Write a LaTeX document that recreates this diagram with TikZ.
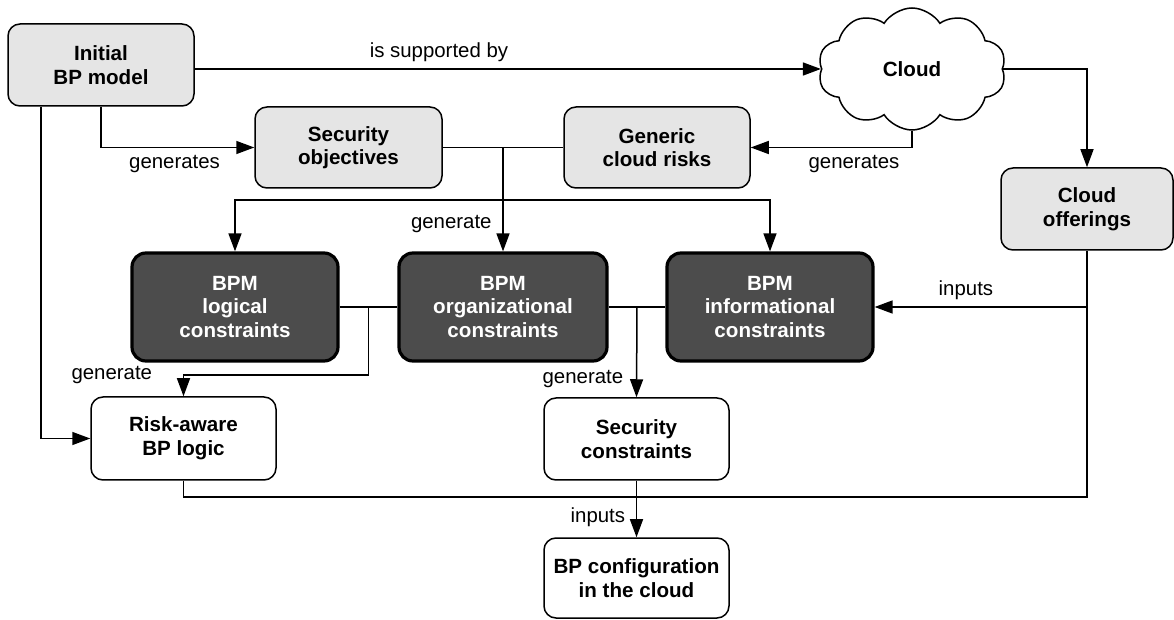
\documentclass[tikz,border=0pt]{standalone}
\usepackage{fontspec}
\setmainfont{Liberation Sans}
\usetikzlibrary{arrows.meta,shapes.symbols,calc}

\begin{document}
\begin{tikzpicture}[x=0.5pt, y=-0.5pt, thick,
    font=\fontsize{10.2}{11.8}\selectfont,
    box/.style={draw, rounded corners=6pt, align=center, inner sep=2pt, line width=0.75pt, font=\fontsize{10.3}{11.8}\selectfont\bfseries},
    lightbox/.style={box, fill=black!10},
    darkbox/.style={box, fill=black!70, text=white, line width=1.6pt, rounded corners=7pt},
    whitebox/.style={box, fill=white},
    link/.style={line width=0.75pt},
    arr/.style={link, -{Triangle[length=9pt, width=6.5pt]}}]
    \useasboundingbox (0,0) rectangle (1174,620);

    \node (init) at (101,65) [lightbox, minimum width=93pt, minimum height=41pt] {Initial\\BP model};
    \node (secobj) at (348.5,147.5) [lightbox, minimum width=93.5pt, minimum height=40.5pt] {Security\\objectives};
    \node (risks) at (657,147.5) [lightbox, minimum width=93pt, minimum height=40.5pt] {Generic\\cloud risks};
    \node (cloud) at (912,69) [draw, cloud, cloud puffs=10, cloud puff arc=115, aspect=1.55, minimum width=94pt, minimum height=61pt, line width=0.75pt, font=\fontsize{10.3}{11.8}\selectfont\bfseries] {Cloud};
    \node (offer) at (1087,209) [lightbox, minimum width=86pt, minimum height=41pt] {Cloud\\offerings};

    \node (logic) at (235,307) [darkbox, minimum width=103pt, minimum height=54pt] {BPM\\logical\\constraints};
    \node (org) at (503,307) [darkbox, minimum width=104pt, minimum height=54pt] {BPM\\organizational\\constraints};
    \node (info) at (770,307) [darkbox, minimum width=103pt, minimum height=54pt] {BPM\\informational\\constraints};

    \node (riskbp) at (183.5,438.5) [whitebox, minimum width=92.5pt, minimum height=41.5pt] {Risk-aware\\BP logic};
    \node (secc) at (636.5,439) [whitebox, minimum width=92.5pt, minimum height=41pt] {Security\\constraints};
    \node (config) at (636.5,578) [whitebox, minimum width=92.5pt, minimum height=40pt] {BP configuration\\in the cloud};

    % top row
    \draw[arr] (init.east |- cloud.west) -- (cloud.west) node[pos=0.39, above] {is supported by};
    \draw[arr] (init.south) |- (secobj.west) node[pos=0.74, below] {generates};
    \draw[arr] (cloud.south) |- (risks.east) node[pos=0.68, below] {generates};
    \draw[arr] (cloud.east) -| (offer.north);

    % objectives and risks generate the constraints
    \draw[link] (secobj.east) -- (risks.west);
    \coordinate (gen) at ($(secobj.east)!0.5!(risks.west)$);
    \coordinate (dist) at (gen |- 0,200);
    \draw[arr] (gen) -- (org.north) node[pos=0.74, left, xshift=-2pt] {generate};
    \draw[arr] (dist) -| (logic.north);
    \draw[arr] (dist) -| (info.north);

    % constraints generate the logic and the security constraints
    \draw[link] (logic.east) -- (org.west);
    \draw[link] (org.east) -- (info.west);
    \coordinate (lb) at ($(logic.east)!0.5!(org.west)$);
    \coordinate (ob) at ($(org.east)!0.5!(info.west)$);
    \draw[arr] (lb) -- ++(0,68) -| (riskbp.north) node[pos=0.5, left, xshift=-12pt] {generate};
    \draw[arr] (ob) -- (secc.north) node[pos=0.8, left, xshift=-3pt] {generate};
    \draw[arr] ([xshift=-30pt]init.south) |- (riskbp.west);

    % inputs
    \draw[arr] (offer.south |- info.east) -- (info.east) node[pos=0.57, above] {inputs};
    \coordinate (join) at (secc.south |- 0,497);
    \draw[link] (riskbp.south) |- (offer.south |- join) -- (offer.south);
    \draw[arr] (secc.south) -- (config.north) node[pos=0.65, left, xshift=-2pt] {inputs};
\end{tikzpicture}
\end{document}
